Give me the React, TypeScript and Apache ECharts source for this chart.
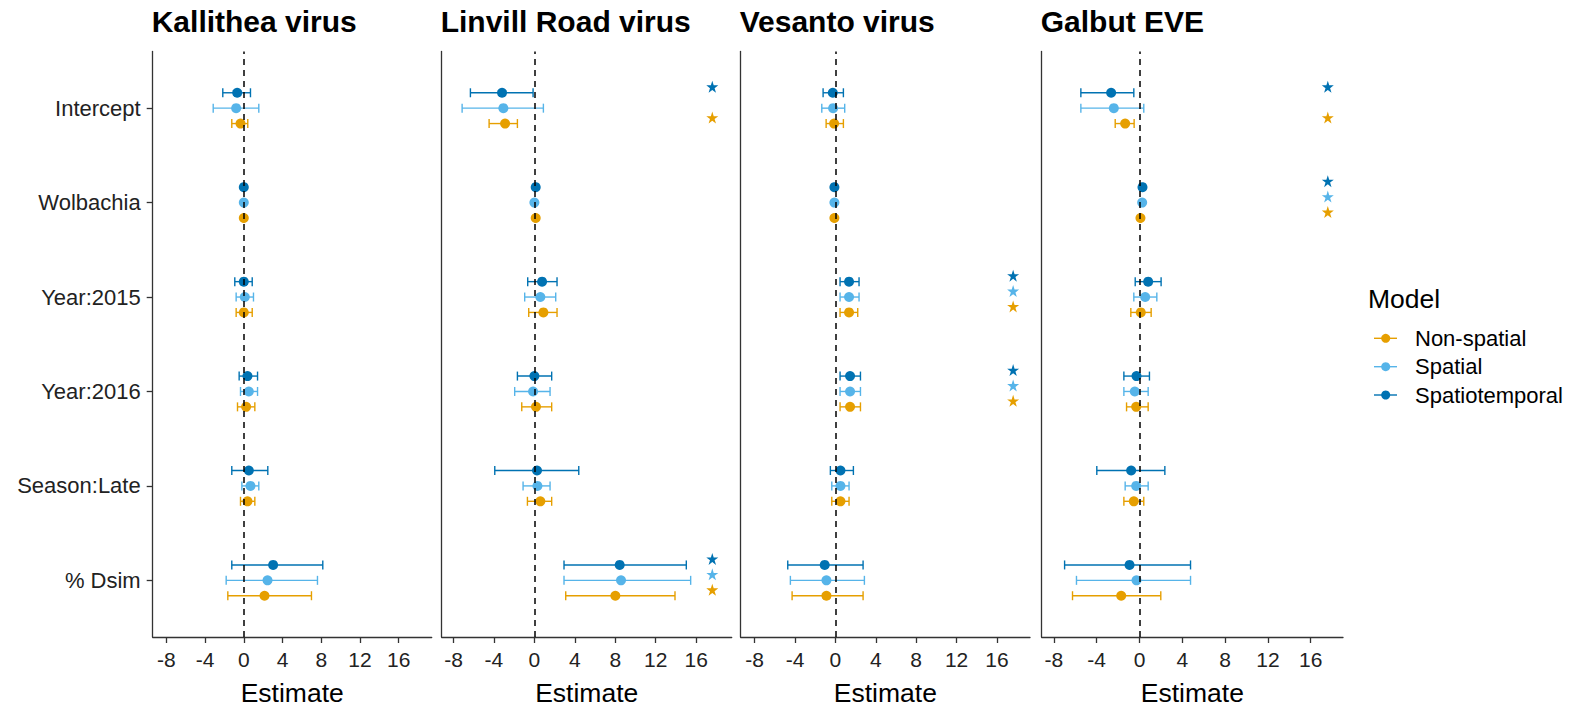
import React, { useEffect, useRef } from "react";
import * as echarts from "echarts";

// Model terms, top to bottom
const terms = ["Intercept", "Wolbachia", "Year:2015", "Year:2016", "Season:Late", "% Dsim"];
const models = ["Non-spatial", "Spatial", "Spatiotemporal"];
const modelColors = ["#E69F00", "#56B4E9", "#0072B2"];
const xTicks = [-8, -4, 0, 4, 8, 12, 16];

// Each row: [estimate, lower CI, upper CI], in the order of `terms`
const kallitheaNonSpatial = [[-0.34, -1.24, 0.41], [0.0, -0.08, 0.08], [0.0, -0.79, 0.87], [0.24, -0.65, 1.14], [0.38, -0.34, 1.14], [2.14, -1.65, 6.99]];
const kallitheaSpatial = [[-0.79, -3.16, 1.55], [0.0, -0.08, 0.08], [0.1, -0.79, 1.0], [0.52, -0.34, 1.42], [0.69, -0.2, 1.55], [2.45, -1.82, 7.61]];
const kallitheaSpatiotemporal = [[-0.68, -2.17, 0.69], [0.0, -0.08, 0.08], [0.0, -0.93, 0.87], [0.38, -0.48, 1.42], [0.52, -1.24, 2.48], [3.03, -1.24, 8.16]];

const linvillNonSpatial = [[-2.9, -4.48, -1.68], [0.13, 0.05, 0.21], [0.89, -0.56, 2.24], [0.16, -1.25, 1.71], [0.59, -0.69, 1.71], [8.01, 3.1, 13.91]];
const linvillSpatial = [[-3.07, -7.15, 0.89], [0.0, -0.08, 0.08], [0.59, -0.96, 2.11], [-0.13, -1.95, 1.55], [0.3, -1.12, 1.55], [8.57, 2.93, 15.46]];
const linvillSpatiotemporal = [[-3.2, -6.33, -0.13], [0.13, 0.05, 0.21], [0.76, -0.66, 2.24], [0.0, -1.68, 1.71], [0.26, -3.92, 4.39], [8.44, 2.93, 15.03]];

const vesantoNonSpatial = [[-0.13, -0.92, 0.79], [-0.1, -0.18, -0.02], [1.35, 0.46, 2.21], [1.45, 0.46, 2.48], [0.5, -0.36, 1.35], [-0.89, -4.29, 2.74]];
const vesantoSpatial = [[-0.23, -1.35, 0.92], [-0.1, -0.18, -0.02], [1.35, 0.46, 2.34], [1.45, 0.46, 2.48], [0.5, -0.36, 1.35], [-0.89, -4.46, 2.87]];
const vesantoSpatiotemporal = [[-0.26, -1.22, 0.79], [-0.1, -0.18, -0.02], [1.35, 0.46, 2.34], [1.45, 0.46, 2.48], [0.5, -0.5, 1.78], [-1.06, -4.72, 2.74]];

const galbutNonSpatial = [[-1.34, -2.27, -0.5], [0.09, 0.01, 0.17], [0.12, -0.81, 1.09], [-0.31, -1.21, 0.81], [-0.53, -1.46, 0.4], [-1.71, -6.26, 1.99]];
const galbutSpatial = [[-2.4, -5.48, 0.4], [0.25, 0.17, 0.33], [0.53, -0.53, 1.62], [-0.44, -1.46, 0.81], [-0.31, -1.34, 0.81], [-0.28, -5.89, 4.77]];
const galbutSpatiotemporal = [[-2.65, -5.48, -0.53], [0.28, 0.2, 0.36], [0.81, -0.4, 2.02], [-0.28, -1.46, 0.93], [-0.78, -3.99, 2.37], [-0.93, -7.0, 4.77]];

// Significant terms per model (Non-spatial, Spatial, Spatiotemporal)
const kallitheaSignificant = [[], [], []];
const linvillSignificant = [["Intercept", "% Dsim"], ["% Dsim"], ["Intercept", "% Dsim"]];
const vesantoSignificant = [["Year:2015", "Year:2016"], ["Year:2015", "Year:2016"], ["Year:2015", "Year:2016"]];
const galbutSignificant = [["Intercept", "Wolbachia"], ["Wolbachia"], ["Intercept", "Wolbachia"]];

const viruses = ["Kallithea virus", "Linvill Road virus", "Vesanto virus", "Galbut EVE"];
const virusData = [
  [kallitheaNonSpatial, kallitheaSpatial, kallitheaSpatiotemporal],
  [linvillNonSpatial, linvillSpatial, linvillSpatiotemporal],
  [vesantoNonSpatial, vesantoSpatial, vesantoSpatiotemporal],
  [galbutNonSpatial, galbutSpatial, galbutSpatiotemporal],
];
const virusSignificant = [kallitheaSignificant, linvillSignificant, vesantoSignificant, galbutSignificant];

// Horizontal position of the significance stars
const starX = 17.6;

// Panel layout (pixels) and x ranges
const panelLayout = [
  { left: 152.7, right: 431.7, min: -9.41, max: 19.41 },
  { left: 441.7, right: 731.7, min: -9.17, max: 19.52 },
  { left: 740.7, right: 1030, min: -9.38, max: 19.27 },
  { left: 1041.7, right: 1343, min: -9.14, max: 19.02 },
];
const gridTop = 51.5;
const gridHeight = 590.5;
const dodge = [-0.163, 0, 0.163];
const FONT = "'Liberation Sans', Arial, sans-serif";
const STAR = "path://M50,0 L61.2,34.5 L97.6,34.5 L68.2,55.9 L79.4,90.5 L50,69.1 L20.6,90.5 L31.8,55.9 L2.4,34.5 L38.8,34.5 Z";

function termY(i: number) {
  return terms.length - i;
}

function buildOption() {
  const grid: any[] = [];
  const xAxis: any[] = [];
  const yAxis: any[] = [];
  const title: any[] = [];
  const series: any[] = [];

  panelLayout.forEach((pl, p) => {
    grid.push({ left: pl.left, width: pl.right - pl.left, top: gridTop, height: gridHeight, containLabel: false });
    title.push({
      text: viruses[p],
      left: pl.left - 1,
      top: 6,
      padding: 0,
      textStyle: { fontFamily: FONT, fontSize: 30, fontWeight: "bold", color: "#000" },
    });
    xAxis.push({
      type: "value",
      gridIndex: p,
      min: pl.min,
      max: pl.max,
      name: "Estimate",
      nameLocation: "middle",
      nameGap: 42,
      nameTextStyle: { fontFamily: FONT, fontSize: 26.5, color: "#000" },
      axisLine: { show: true, onZero: false, lineStyle: { color: "#333", width: 1.3 } },
      axisTick: { show: true, customValues: xTicks, length: 6, lineStyle: { color: "#333", width: 1.3 } },
      axisLabel: {
        show: true,
        customValues: xTicks,
        margin: 12,
        fontFamily: FONT,
        fontSize: 21,
        color: "#222",
        formatter: (v: number) => String(v),
      },
      splitLine: { show: false },
    });
    const first = p === 0;
    yAxis.push({
      type: "value",
      gridIndex: p,
      min: 0.4,
      max: terms.length + 0.6,
      axisLine: { show: true, onZero: false, lineStyle: { color: "#333", width: 1.3 } },
      axisTick: first
        ? { show: true, customValues: terms.map((_, i) => termY(i)), length: 6, lineStyle: { color: "#333", width: 1.3 } }
        : { show: false },
      axisLabel: first
        ? {
            show: true,
            customValues: terms.map((_, i) => termY(i)),
            margin: 12,
            fontFamily: FONT,
            fontSize: 22,
            color: "#222",
            formatter: (v: number) => terms[terms.length - Math.round(v)],
          }
        : { show: false },
      splitLine: { show: false },
    });

    virusData[p].forEach((rows, m) => {
      const color = modelColors[m];
      // error bars
      series.push({
        type: "custom",
        name: models[m],
        xAxisIndex: p,
        yAxisIndex: p,
        z: 2,
        silent: true,
        data: rows.map((r, i) => [r[1], r[2], termY(i) + dodge[m]]),
        encode: { x: [0, 1], y: 2 },
        renderItem: (params: any, api: any) => {
          const a = api.coord([api.value(0), api.value(2)]);
          const b = api.coord([api.value(1), api.value(2)]);
          const h = 4.5;
          const style = { stroke: color, lineWidth: 1.4, fill: null };
          return {
            type: "group",
            children: [
              { type: "line", shape: { x1: a[0], y1: a[1], x2: b[0], y2: b[1] }, style },
              { type: "line", shape: { x1: a[0], y1: a[1] - h, x2: a[0], y2: a[1] + h }, style },
              { type: "line", shape: { x1: b[0], y1: b[1] - h, x2: b[0], y2: b[1] + h }, style },
            ],
          };
        },
      });
      // point estimates
      const pointSeries: any = {
        type: "scatter",
        name: models[m],
        xAxisIndex: p,
        yAxisIndex: p,
        z: 3,
        silent: true,
        symbol: "circle",
        symbolSize: 10,
        itemStyle: { color, opacity: 1 },
        data: rows.map((r, i) => [r[0], termY(i) + dodge[m]]),
      };
      if (m === 0) {
        pointSeries.markLine = {
          silent: true,
          symbol: "none",
          label: { show: false },
          z: 5,
          lineStyle: { type: [6, 5], color: "#000", width: 1.5 },
          data: [{ xAxis: 0 }],
        };
      }
      series.push(pointSeries);
      // significance stars
      const sig = virusSignificant[p][m];
      if (sig.length) {
        series.push({
          type: "scatter",
          name: models[m],
          xAxisIndex: p,
          yAxisIndex: p,
          z: 3,
          silent: true,
          symbol: STAR,
          symbolSize: 12,
          symbolOffset: [0, -6],
          itemStyle: { color, opacity: 1 },
          data: sig.map((t) => [starX, termY(terms.indexOf(t)) + dodge[m]]),
        });
      }
    });
  });

  // Legend
  const legendItems = [338.3, 366.7, 395];
  const graphic: any[] = [
    {
      type: "text",
      left: 1368,
      top: 300 - 15,
      style: { text: "Model", fontFamily: FONT, fontSize: 26.5, fill: "#000" },
    },
  ];
  models.forEach((name, m) => {
    const y = legendItems[m];
    graphic.push({ type: "line", shape: { x1: 1374, y1: y, x2: 1397, y2: y }, style: { stroke: modelColors[m], lineWidth: 1.4 } });
    graphic.push({ type: "circle", shape: { cx: 1385.7, cy: y, r: 4.5 }, style: { fill: modelColors[m] } });
    graphic.push({
      type: "text",
      x: 1415,
      y,
      style: { text: name, fontFamily: FONT, fontSize: 22, fill: "#000", verticalAlign: "middle", align: "left" },
    });
  });

  return {
    animation: false,
    backgroundColor: "#fff",
    title,
    grid,
    xAxis,
    yAxis,
    series,
    graphic,
  };
}

export default function App() {
  const ref = useRef<HTMLDivElement>(null);
  useEffect(() => {
    if (!ref.current) return;
    const chart = echarts.init(ref.current, undefined, { renderer: "svg" });
    chart.setOption(buildOption() as any);
    return () => chart.dispose();
  }, []);
  return <div ref={ref} style={{ position: "absolute", left: 0, top: 0, width: 1572, height: 711 }} />;
}
